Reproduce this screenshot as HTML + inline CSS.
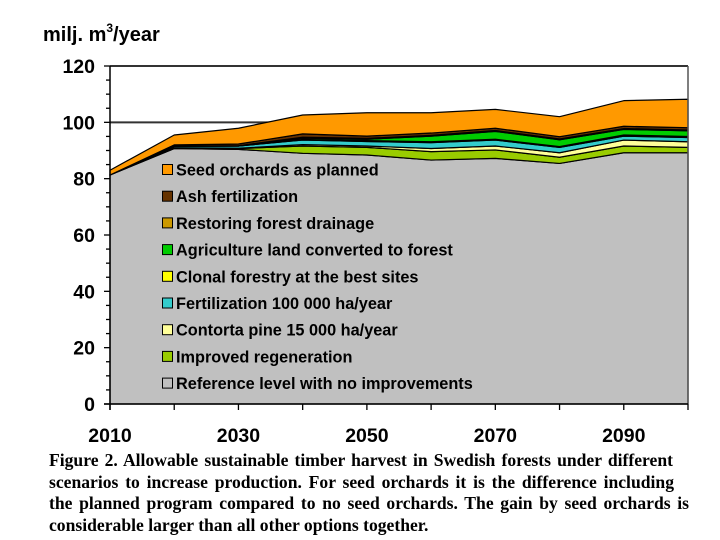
<!DOCTYPE html>
<html><head><meta charset="utf-8"><style>
body{margin:0;background:#fff;width:720px;height:540px;overflow:hidden}
svg text{font-family:"Liberation Sans",Arial,sans-serif;font-weight:bold}
.cap{position:absolute;left:49px;top:450px;font-family:"Liberation Serif",serif;font-weight:bold;font-size:17.6px;line-height:21.6px;color:#000}
.cap span{display:block;white-space:nowrap;text-align:justify;text-align-last:justify}
.cap span.last{text-align-last:left}
</style></head><body>
<svg id="chart" width="720" height="540" style="position:absolute;left:0;top:0">
<text x="43" y="41" font-size="20">milj. m<tspan dy="-9" font-size="12">3</tspan><tspan dy="9">/year</tspan></text>
<g id="grid"></g><g id="areas"></g><g id="axes"></g><g id="legend"></g>
</svg>
<div class="cap"><span style="width:624px">Figure 2. Allowable sustainable timber harvest in Swedish forests under different</span><span style="width:625px">scenarios to increase production. For seed orchards it is the difference including</span><span style="width:640px">the planned program compared to no seed orchards. The gain by seed orchards is</span><span class="last">considerable larger than all other options together.</span></div>
<script>
const years=[2010,2020,2030,2040,2050,2060,2070,2080,2090,2100];
const xTickLabels=[2010,2030,2050,2070,2090];
const yTickLabels=[0,20,40,60,80,100,120];
const seriesNames=["Reference level with no improvements","Improved regeneration","Contorta pine 15 000 ha/year","Fertilization 100 000 ha/year","Clonal forestry at the best sites","Agriculture land converted to forest","Restoring forest drainage","Ash fertilization","Seed orchards as planned"];
const reference=[81.3,90.7,90.4,89,88.4,86.6,87.2,85.4,89.2,89.2];
const regeneration=[0,0.3,0.3,2.6,2.7,3,3,2.2,2.4,1.9];
const contorta=[0,0,0.1,0.5,0.5,1.1,1.4,1.6,2.1,2];
const fertilization=[0,0.5,0.8,1.6,1.6,2.1,2.1,1.9,1.4,1.5];
const clonal=[0,0,0,0.2,0.3,0.3,0.3,0.3,0.4,0.4];
const agriculture=[0,0,0,0.5,0.5,2,2.8,2.4,2,2];
const drainage=[0,0.1,0.1,0.3,0.3,0.3,0.3,0.3,0.3,0.3];
const ash=[0,0.4,0.6,1.2,0.8,0.8,0.8,0.8,0.8,0.8];
const seedOrchards=[1.7,3.5,5.6,6.7,8.3,7.2,6.7,7.1,9.1,10.1];
const colors=["#c0c0c0","#99cc00","#ffff99","#33cccc","#ffff00","#00cc00","#cc9900","#663300","#ff9900"];
const series=[reference,regeneration,contorta,fertilization,clonal,agriculture,drainage,ash,seedOrchards];
const X0=110,X1=688,Y0=404,Y1=66;
const xs=y=>X0+(y-2010)/90*(X1-X0);
const ys=v=>Y0-v/120*(Y0-Y1);
const NS="http://www.w3.org/2000/svg";
function mk(t,a,p){const e=document.createElementNS(NS,t);for(const k in a)e.setAttribute(k,a[k]);p.appendChild(e);return e;}
const grid=document.getElementById('grid'),areas=document.getElementById('areas'),axes=document.getElementById('axes'),leg=document.getElementById('legend');
const g100=mk('line',{x1:X0,x2:X1,y1:ys(100),y2:ys(100),stroke:"#333","stroke-width":2},grid);


let base=years.map(()=>0);
series.forEach((s,i)=>{
 const top=base.map((b,j)=>b+s[j]);
 let d="M"+years.map((y,j)=>xs(y)+","+ys(top[j])).join(" L");
 for(let j=years.length-1;j>=0;j--)d+=" L"+xs(years[j])+","+ys(base[j]);
 const p=mk('path',{d:d+"Z",fill:colors[i],stroke:"#000","stroke-width":1.2,"stroke-linejoin":"round"},areas);
 
 
 base=top;
});
mk('line',{x1:X0,x2:X1,y1:Y1,y2:Y1,stroke:"#333","stroke-width":2},axes);
mk('line',{x1:X1,x2:X1,y1:Y1,y2:Y0,stroke:"#555","stroke-width":1.5},axes);
mk('line',{x1:X0,x2:X0,y1:Y1,y2:Y0+6,stroke:"#000","stroke-width":1.5},axes);
mk('line',{x1:X0-6,x2:X1,y1:Y0,y2:Y0,stroke:"#000","stroke-width":1.5},axes);
for(let v=0;v<=120;v+=5){mk('line',{x1:X0-(v%20?4:6),x2:X0,y1:ys(v),y2:ys(v),stroke:"#000","stroke-width":1.3},axes);}
yTickLabels.forEach(v=>{const t=mk('text',{x:95,y:ys(v)+7,"text-anchor":"end","font-size":19.5},axes);t.textContent=v;
 
 });
years.forEach(y=>mk('line',{x1:xs(y),x2:xs(y),y1:Y0,y2:Y0+6,stroke:"#000","stroke-width":1.3},axes));
xTickLabels.forEach(y=>{const t=mk('text',{x:xs(y),y:442,"text-anchor":"middle","font-size":19.5},axes);t.textContent=y;
 
 });
for(let k=0;k<9;k++){const i=8-k,yy=170+k*26.7;
 const g=mk('g',{},leg);
 
 
 mk('rect',{x:162.5,y:yy-5.5,width:10,height:10,fill:colors[i],stroke:"#000","stroke-width":1},g);
 const t=mk('text',{x:176,y:yy+5.5,"font-size":16.3},g);t.textContent=seriesNames[i];}
</script>
</body></html>
